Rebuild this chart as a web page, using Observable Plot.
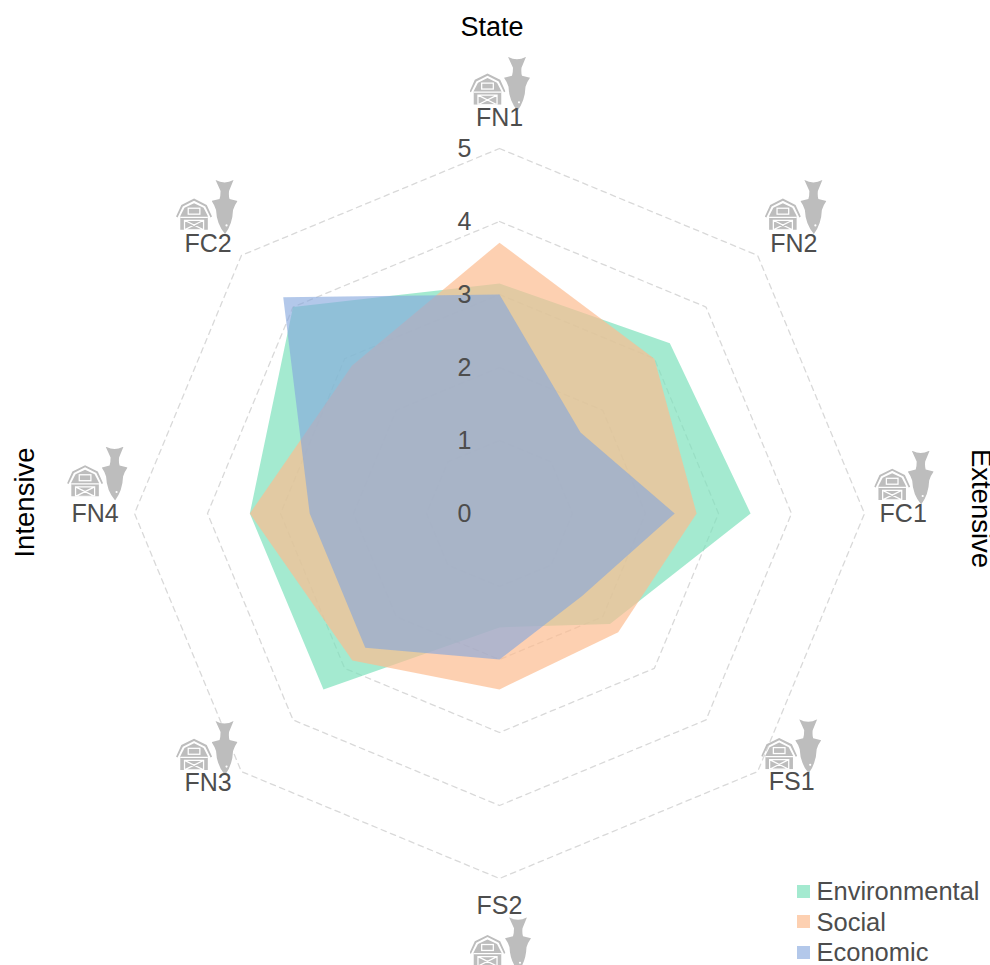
<!DOCTYPE html>
<html>
<head>
<meta charset="utf-8">
<script src="https://cdn.jsdelivr.net/npm/d3@7"></script>
<script src="https://cdn.jsdelivr.net/npm/@observablehq/plot@0.6"></script>
<style>
html,body{margin:0;padding:0;background:#fff;overflow:hidden}
#wrap{position:relative;width:990px;height:965px;overflow:hidden;font-family:"Liberation Sans",Arial,sans-serif}
#legend{position:absolute;left:797px;top:876px;font-size:25.5px;color:#4d4d4d;line-height:30.5px}
#legend div{display:flex;align-items:center;height:30.5px;white-space:nowrap}
#legend i{display:inline-block;width:13px;height:13px;margin-right:6.5px}
</style>
</head>
<body>
<div id="wrap"><div id="chart"></div><div id="legend"></div></div>
<script>
const categories = ["FN1","FN2","FC1","FS1","FS2","FN3","FN4","FC2"];
const environmental = [3.15,3.30,3.44,2.14,1.56,3.41,3.42,4.00];
const social        = [3.71,3.00,2.70,2.30,2.41,2.85,3.42,2.86];
const economic      = [3.00,1.57,2.40,1.60,2.00,2.60,2.60,4.19];
const seriesNames = ["Environmental","Social","Economic"];
const seriesColors = ["#7de1bc","#fcbc90","#84a6dd"];
const seriesAlpha = [0.7,0.7,0.62];
const levels = [1,2,3,4,5];
const tickLabels = ["0","1","2","3","4","5"];

const unit = 73;
const cx = 499, cy = 513;
const polar = (r,i) => ({x: r*Math.sin(i*Math.PI/4), y: r*Math.cos(i*Math.PI/4)});
const polygon = (vals,name) => vals.map((v,i)=>({...polar(v,i),series:name}));
const rings = levels.flatMap(l => categories.map((c,i)=>({...polar(l,i),level:l})));

// label anchors, in chart units from the centre
const labelR = 5.42;
const labelNudge = [[0,0],[0.2,-0.14],[0.11,0],[0.17,0.15],[0,0.04],[-0.16,0.14],[-0.12,0],[-0.16,-0.14]];
const labelData = categories.map((c,i)=>{
  const p = polar(labelR,i);
  return {label:c, x:p.x+labelNudge[i][0], y:p.y+labelNudge[i][1]};
});
const px = v => v/unit;
const iconOffsets = {
  fish:[[17.5,-34],[19.5,-37],[17.5,-36],[16.5,-36],[18.5,38],[16.5,-35],[19.5,-40],[16.5,-37]],
  barn:[[-12,-29],[-11,-30],[-11,-29.5],[-12.5,-29],[-12,44],[-14,-29],[-10,-33],[-14,-30]]
};
const iconData = kind => labelData.map((d,i)=>({x:d.x+px(iconOffsets[kind][i][0]), y:d.y-px(iconOffsets[kind][i][1])}));

const g = "#bdbdbd";
const barnSvg = `<svg xmlns="http://www.w3.org/2000/svg" width="36" height="32" viewBox="0 0 34 30"><path fill="${g}" d="M0 17.5L5 6.5L17 .5L29 6.5L34 17.5L32.6 18.3L27.6 8L17 2.6L6.4 8L1.4 18.3Z"/><path fill="${g}" d="M4 30V17L8 9.2L17 4.8L26 9.2L30 17V30Z"/><g fill="none" stroke="#fff" stroke-width="1.2"><rect x="11.5" y="9.6" width="11" height="5.6"/><path d="M4 18.2H30M8 21H26V30H8ZM8 21L26 30M26 21L8 30"/></g></svg>`;
const fishSvg = `<svg xmlns="http://www.w3.org/2000/svg" width="26" height="54" viewBox="0 0 26 54"><path fill="${g}" d="M4 0Q13 5 22 0L17.5 11Q17 16 18 19L26 21Q23 25 21.5 30Q21 44 13.5 54Q5 44 4.5 30Q3 25 0 21L8 19Q9 16 9 11Z"/><circle cx="15" cy="45.5" r="1.1" fill="#fff"/></svg>`;
const uri = s => "data:image/svg+xml;utf8," + encodeURIComponent(s);

const plot = Plot.plot({
  width: 990, height: 965, margin: 0,
  style: {fontFamily:'"Liberation Sans",Arial,sans-serif', background:"#fff", overflow:"hidden"},
  x: {domain:[-cx/unit,(990-cx)/unit], range:[0,990], axis:null},
  y: {domain:[-(965-cy)/unit,cy/unit], range:[965,0], axis:null},
  color: {domain:seriesNames, range:seriesColors},
  marks: [
    Plot.line(rings,{x:"x",y:"y",z:"level",curve:"linear-closed",stroke:"#d9d9d9",strokeWidth:1.3,strokeDasharray:"5.5,4.5"}),
    Plot.line(polygon(environmental,seriesNames[0]),{x:"x",y:"y",curve:"linear-closed",fill:d=>d.series,fillOpacity:seriesAlpha[0],stroke:null}),
    Plot.line(polygon(social,seriesNames[1]),{x:"x",y:"y",curve:"linear-closed",fill:d=>d.series,fillOpacity:seriesAlpha[1],stroke:null}),
    Plot.line(polygon(economic,seriesNames[2]),{x:"x",y:"y",curve:"linear-closed",fill:d=>d.series,fillOpacity:seriesAlpha[2],stroke:null}),
    Plot.text(tickLabels,{x:()=>px(-35),y:(d)=>+d,text:d=>d,fontSize:25,fill:"#4d4d4d",lineAnchor:"middle"}),
    Plot.image(iconData("barn"),{x:"x",y:"y",src:()=>uri(barnSvg),width:36,height:32}),
    Plot.image(iconData("fish"),{x:"x",y:"y",src:()=>uri(fishSvg),width:26,height:54}),
    Plot.text(labelData,{x:"x",y:"y",text:"label",fontSize:25,fill:"#4d4d4d",lineAnchor:"middle"}),
    Plot.text(["State"],{x:()=>px(-7.5),y:()=>px(cy-27),text:d=>d,fontSize:27,fill:"#000",lineAnchor:"middle"}),
    Plot.text(["Extensive"],{x:()=>px(980-cx),y:()=>px(cy-508),text:d=>d,fontSize:27.5,fill:"#000",rotate:90,lineAnchor:"middle"}),
    Plot.text(["Intensive"],{x:()=>px(25-cx),y:()=>px(cy-502),text:d=>d,fontSize:27.5,fill:"#000",rotate:-90,lineAnchor:"middle"})
  ]
});
document.getElementById("chart").appendChild(plot);
const lg = document.getElementById("legend");
seriesNames.forEach((n,i)=>{
  const row = document.createElement("div");
  const sw = document.createElement("i");
  sw.style.background = seriesColors[i];
  sw.style.opacity = seriesAlpha[i];
  row.appendChild(sw);
  row.appendChild(document.createTextNode(n));
  lg.appendChild(row);
});
</script>
</body>
</html>
